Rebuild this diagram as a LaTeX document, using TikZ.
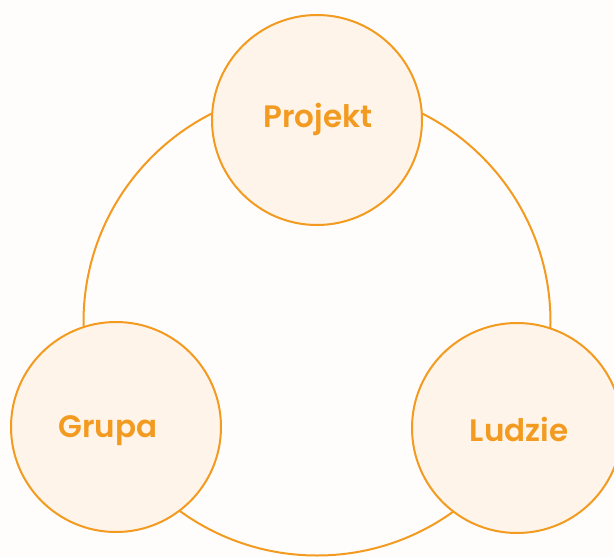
\documentclass[tikz,border=0pt]{standalone}
\usepackage{fontspec}
\setmainfont{Poppins}[BoldFont={* SemiBold}]
\definecolor{org}{HTML}{F29B20}
\definecolor{lfill}{HTML}{FFF4E9}
\definecolor{bg}{HTML}{FFFDFB}
\begin{document}
\begin{tikzpicture}[x=1pt,y=-1pt,
  ring/.style={draw=org,line width=2pt},
  topic/.style={circle,draw=org,fill=lfill,line width=2pt,minimum size=210pt,inner sep=0pt},
  lbl/.style={anchor=base,inner sep=0pt,text=org,font=\fontsize{31}{34}\selectfont\bfseries}]
\useasboundingbox (0,0) rectangle (614,557);
\fill[bg] (0,0) rectangle (614,557);
\begin{scope}
\clip (0,0) rectangle (614,557);
\draw[ring] (317,322) circle[radius=233.5];
\node[topic] (projekt) at (317,120) {};
\node[topic] (grupa) at (116,427) {};
\node[topic] (ludzie) at (517,428) {};
\end{scope}
\node[lbl] (tp) at (318,127) {Projekt};
\node[lbl] (tg) at (108,437) {Grupa};
\node[lbl] (tl) at (519,441) {Ludzie};
\end{tikzpicture}
\end{document}
